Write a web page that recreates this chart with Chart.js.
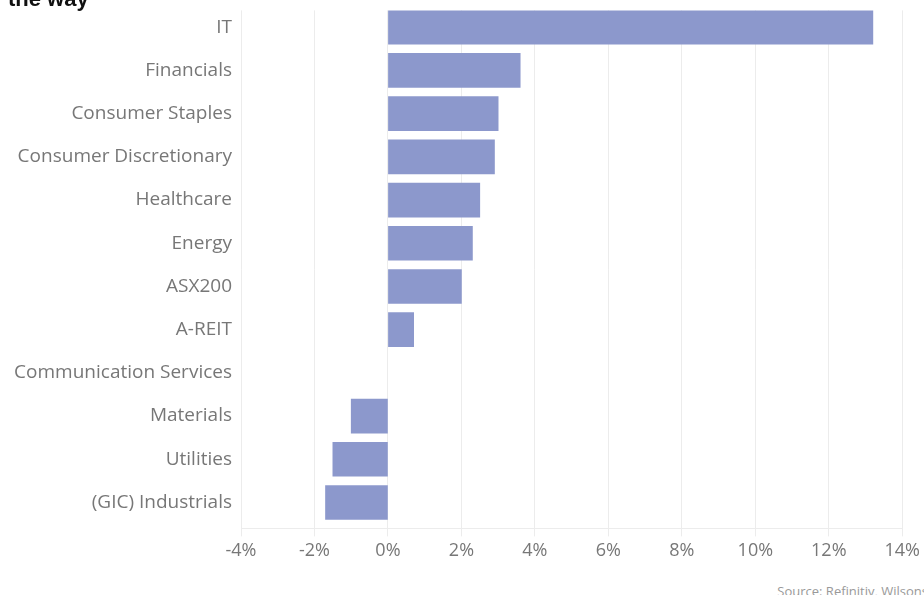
<!DOCTYPE html>
<html>
<head>
<meta charset="utf-8">
<script src="https://cdn.jsdelivr.net/npm/chart.js@4/dist/chart.umd.min.js"></script>
<style>
  html, body { margin: 0; padding: 0; background: #fff; overflow: hidden; }
  #wrap { position: relative; width: 924px; height: 595px; }
  #chart { position: absolute; left: 0; top: -2px; }
  #title { position: absolute; left: 8px; top: -14px; font: bold 22px "Liberation Sans", Arial, sans-serif; color: #111; }
  #source { position: absolute; right: -4px; top: 582px; font: 13px "Open Sans", sans-serif; color: #999; white-space: nowrap; }
</style>
</head>
<body>
<div id="wrap">
  <canvas id="chart" width="924" height="568"></canvas>
  <div id="title">the way</div>
  <div id="source">Source: Refinitiv, Wilsons</div>
</div>
<script>
const sectors = [
  "IT", "Financials", "Consumer Staples", "Consumer Discretionary",
  "Healthcare", "Energy", "ASX200", "A-REIT", "Communication Services",
  "Materials", "Utilities", "(GIC) Industrials"
];
const returns = [13.2, 3.6, 3.0, 2.9, 2.5, 2.3, 2.0, 0.7, 0.0, -1.0, -1.5, -1.7];

document.addEventListener("DOMContentLoaded", () => {
  const canvas = document.getElementById("chart");
  canvas.style.width = "924px";
  canvas.style.height = "568px";

  // bars sit flush with the top of the plot, gap only below the last one
  const points = returns.map((v, i) => ({ x: v, y: i }));

  new Chart(canvas, {
    type: "bar",
    data: {
      datasets: [
        {
          data: points,
          backgroundColor: (ctx) => (ctx.raw && ctx.raw.x === 0 ? "rgba(0,0,0,0)" : "#8c98cc"),
          barThickness: 34,
        },
      ],
    },
    options: {
      indexAxis: "y",
      responsive: false,
      animation: false,
      layout: { padding: { top: 0, right: 2, bottom: 0, left: 0 } },
      plugins: {
        legend: { display: false },
        tooltip: { enabled: false },
      },
      scales: {
        x: {
          min: -4,
          max: 14,
          ticks: {
            stepSize: 2,
            color: "#777",
            font: { family: "Open Sans", size: 18 },
            padding: 4,
            callback: (v) => v + "%",
          },
          grid: { color: "#ececec", tickLength: 8 },
          border: { color: "#ececec" },
        },
        y: {
          type: "linear",
          reverse: true,
          offset: false,
          min: -0.39,
          max: 11.6,
          afterFit: (scale) => { scale.width = 241; },
          ticks: {
            stepSize: 1,
            includeBounds: false,
            autoSkip: false,
            color: "#777",
            font: { family: "Open Sans", size: 19 },
            padding: 1,
            callback: (v) => sectors[v] ?? "",
          },
          grid: { display: false },
          border: { display: false },
        },
      },
    },
  });
});
</script>
</body>
</html>
